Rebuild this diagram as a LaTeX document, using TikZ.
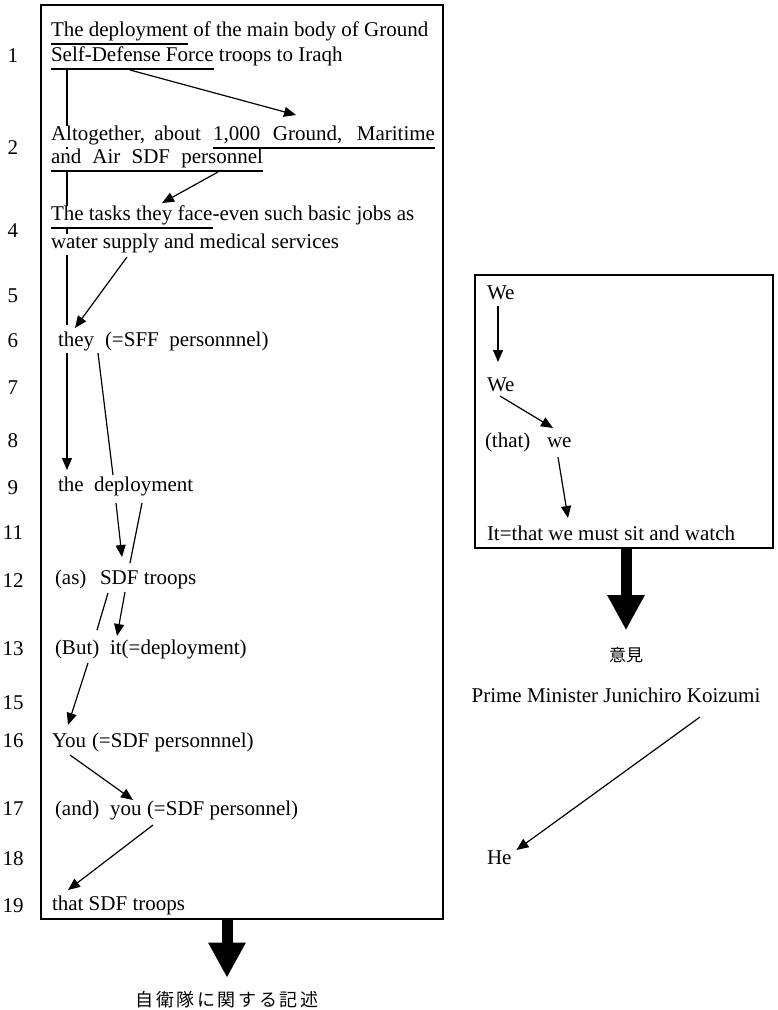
\documentclass[tikz,border=0pt]{standalone}
\usepackage{fontspec}
\setmainfont{Liberation Serif}
\newfontfamily\jpfont{Noto Sans CJK JP}
\newfontfamily\jpwide{Noto Sans CJK JP}[LetterSpace=14]
\usetikzlibrary{arrows.meta,backgrounds}
\newcommand\txtsize{\fontsize{21}{25}\selectfont}

\begin{document}
\begin{tikzpicture}[x=1pt,y=-1pt,
box/.style={draw, line width=1.2pt, inner sep=0pt, outer sep=0pt, anchor=north west},
txt/.style={inner sep=0pt, outer sep=0pt, anchor=base west, text height=14pt, text depth=7pt, fill=white, font=\txtsize},
num/.style={inner sep=0pt, anchor=base, font=\txtsize},
ref/.style={line width=1.2pt, -{Triangle[length=12pt,width=10pt]}},
link/.style={line width=1.2pt},
big/.style={line width=11pt, -{Triangle[length=35pt,width=35pt]}},
jp/.style={inner sep=0pt, outer sep=0pt}]
\useasboundingbox (0,0) rectangle (777,1010);

% the two frames
\node[box, minimum width=402pt, minimum height=914pt] (leftbox) at (41,5) {};
\node[box, minimum width=298pt, minimum height=273pt] (rightbox) at (475,275) {};

% line numbers
\foreach \n/\b in {1/62,2/154,4/237,5/302,6/347,7/394,8/447,9/494,11/539,12/587,13/655,15/709,16/747,17/815,18/865,19/912}
  \node[num] (num\n) at (13,\b) {\n};

% left column
\node[txt] (deploy) at (51,36) {The deployment};
\node[txt] (deployR) at (deploy.base east) {\ of the main body of Ground};
\node[txt] (sdf) at (51,61) {Self-Defense Force};
\node[txt] (sdfR) at (sdf.base east) {\ troops to Iraqh};
\node[txt] (alto) at (51,140) {\makebox[150pt][s]{Altogether, about}};
\node[txt] (ground) at (213,140) {\makebox[222pt][s]{1,000 Ground, Maritime}};
\node[txt] (air) at (51,163) {\makebox[212pt][s]{and Air SDF personnel}};
\node[txt] (tasks) at (51,220) {The tasks they face};
\node[txt] (tasksR) at (tasks.base east) {-even such basic jobs as};
\node[txt] (water) at (51,248) {water supply and medical services};
\node[txt] (they) at (58,346) {they};
\node[txt] (theyR) at (105,346) {(=SFF\ \ personnnel)};
\node[txt] (thedep) at (58,491) {the\ \ deployment};
\node[txt] (as) at (55,584) {(as)};
\node[txt] (sdft) at (100,584) {SDF};
\node[txt] (troops) at (sdft.base east) {\ troops};
\node[txt] (but) at (55,654) {(But)};
\node[txt] (it) at (110,654) {it};
\node[txt] (itR) at (it.base east) {(=deployment)};
\node[txt] (you) at (52,747) {You};
\node[txt] (youR) at (92,747) {(=SDF personnnel)};
\node[txt] (and) at (55,815) {(and)};
\node[txt] (you2) at (110,815) {you};
\node[txt] (you2R) at (147,815) {(=SDF personnel)};
\node[txt] (that) at (52,910) {that SDF troops};

% underlines
\foreach \u in {deploy,sdf,ground,air,tasks}
  \draw[link] ([yshift=-1pt]\u.south west) -- ([yshift=-1pt]\u.south east);

% right column
\node[txt] (we1) at (487,299) {We};
\node[txt] (we2) at (487,391) {We};
\node[txt] (thatw) at (485,447) {(that)};
\node[txt] (we3) at (547,447) {we};
\node[txt] (watch) at (487,540) {It=that we must sit and watch};
\node[txt, anchor=base] (pm) at (616,702) {Prime Minister Junichiro Koizumi};
\node[txt] (he) at (487,864) {He};

\node[jp, font=\jpfont\fontsize{17}{17}\selectfont] (iken) at (626,655) {意見};
\node[jp, font=\jpwide\fontsize{18}{18}\selectfont] (descr) at (227,1000) {自衛隊に関する記述};

% links
\begin{scope}[on background layer]
\draw[link] ([xshift=16pt,yshift=-2pt]sdf.south west) -- ([xshift=9pt,yshift=7pt]they.north west);
\end{scope}
\draw[ref] ([xshift=79pt,yshift=-2pt]sdf.south west) -- ([xshift=83pt,yshift=11pt]ground.north west);
\draw[ref] ([xshift=167pt,yshift=-2pt]air.south west) -- ([xshift=111pt,yshift=3pt]tasks.north west);
\draw[ref] ([xshift=76pt,yshift=-2pt]water.south west) -- ([xshift=17pt,yshift=4pt]they.north west);
\draw[ref] ([xshift=9pt]they.south west) -- ([xshift=9pt,yshift=7pt]thedep.north west);
\draw[link] ([xshift=40pt]they.south west) -- ([xshift=55pt,yshift=2pt]thedep.north west);
\draw[ref] ([xshift=58pt,yshift=-5pt]thedep.south west) -- ([xshift=22pt,yshift=13pt]sdft.north west);
\draw[link] ([xshift=84pt,yshift=-5pt]thedep.south west) -- ([xshift=30pt,yshift=7pt]sdft.north west);
\draw[link] ([xshift=8pt,yshift=-2pt]sdft.south west) -- ([xshift=42pt,yshift=10pt]but.north west);
\draw[ref] ([xshift=25pt,yshift=-1pt]sdft.south west) -- ([xshift=7pt,yshift=4pt]it.north west);
\draw[ref] ([xshift=33pt,yshift=-2pt]but.south west) -- ([xshift=16pt,yshift=8pt]you.north west);
\draw[ref] ([xshift=18pt,yshift=-1pt]you.south west) -- ([xshift=23pt,yshift=1pt]you2.north west);
\draw[ref] ([xshift=6pt,yshift=-3pt]you2R.south west) -- ([xshift=16pt,yshift=6pt]that.north west);

\draw[ref] ([xshift=11pt]we1.south west) -- ([xshift=11pt,yshift=15pt]we2.north west);
\draw[ref] ([xshift=13pt,yshift=2pt]we2.south west) -- ([xshift=6pt,yshift=5pt]we3.north west);
\draw[ref] ([xshift=11pt,yshift=-3pt]we3.south west) -- ([xshift=81pt,yshift=8pt]watch.north west);
\draw[ref] ([xshift=84pt,yshift=-8pt]pm.south) -- ([xshift=5pt]he.north east);

% summary arrows
\draw[big, shorten >=14pt] (leftbox.south -| descr.north) -- (descr.north);
\draw[big, shorten >=17pt] (rightbox.south -| iken.north) -- (iken.north);
\end{tikzpicture}
\end{document}
